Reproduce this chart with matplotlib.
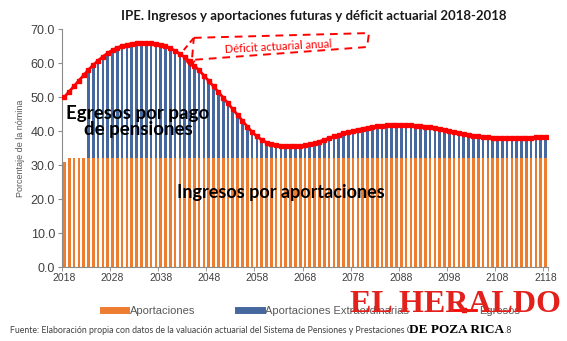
import matplotlib
matplotlib.use("Agg")
import matplotlib.pyplot as plt
from matplotlib.lines import Line2D

# ---- data ----
years = list(range(2018, 2119))
egresos = [
    50.0, 51.6, 53.2, 54.8, 56.4, 58.0, 59.4, 60.7, 61.9, 62.9,
    63.8, 64.5, 65.0, 65.4, 65.7, 65.9, 66.0, 66.0, 65.9, 65.7,
    65.4, 64.9, 64.3, 63.6, 62.7, 61.7, 60.5, 59.2, 57.8, 56.3,
    54.7, 53.1, 51.5, 49.8, 48.1, 46.4, 44.7, 43.0, 41.3, 39.7,
    38.4, 37.4, 36.6, 36.1, 35.8, 35.6, 35.5, 35.5, 35.5, 35.6,
    35.8, 36.1, 36.5, 36.9, 37.4, 37.9, 38.4, 38.9, 39.3, 39.7,
    40.1, 40.4, 40.7, 41.0, 41.2, 41.4, 41.6, 41.7, 41.8, 41.8,
    41.8, 41.8, 41.7, 41.6, 41.5, 41.3, 41.1, 40.8, 40.5, 40.2,
    39.9, 39.6, 39.3, 39.0, 38.8, 38.6, 38.4, 38.2, 38.1, 38.0,
    37.9, 37.9, 37.9, 37.9, 37.9, 37.9, 37.9, 38.0, 38.1, 38.2,
    38.3,
]
aportaciones = [31.0] + [32.2] * 4 + [32.0] * 96
first_extra_year = 2023
tick_years = list(range(2018, 2119, 10))
yticks = [0, 10, 20, 30, 40, 50, 60, 70]

extra = [e - a if y >= first_extra_year else 0.0
         for y, e, a in zip(years, egresos, aportaciones)]

orange = "#ED7D31"
blue = "#46689E"
red = "#FF0000"
gray = "#595959"

fig = plt.figure(figsize=(5.67, 3.41), dpi=100)
ax = fig.add_axes([62 / 567, 74 / 341, 486 / 567, 238 / 341])

x = list(range(len(years)))
ax.bar(x, aportaciones, width=0.55, color=orange, zorder=2)
ax.bar(x, extra, bottom=aportaciones, width=0.55, color=blue, zorder=2)
ax.plot(x, egresos, color=red, lw=2.0, marker="s", ms=3.0, zorder=3)

ax.set_xlim(-0.5, len(years) - 0.5)
ax.set_ylim(0, 70)
ax.set_yticks(yticks)
ax.set_yticklabels([f"{v:.1f}" for v in yticks], fontsize=9, color="#404040",
                   family="Liberation Sans")
ax.set_xticks([years.index(t) for t in tick_years])
ax.set_xticklabels([str(t) for t in tick_years], fontsize=7.5, color="#404040",
                   family="Liberation Sans")
ax.set_xticks([i * 10 - 0.5 for i in range(11)] + [len(years) - 0.5], minor=True)
ax.tick_params(axis="x", which="major", length=0, pad=4)
ax.tick_params(axis="x", which="minor", length=3, color="#8c8c8c")
ax.tick_params(axis="y", length=3, color="#8c8c8c", pad=2)
for s in ["top", "right"]:
    ax.spines[s].set_visible(False)
for s in ["left", "bottom"]:
    ax.spines[s].set_color("#8c8c8c")

ax.set_ylabel("Porcentaje de la nómina", fontsize=6.5, color=gray,
              family="Liberation Sans", labelpad=4)

fig.text(0.553, 0.953, "IPE. Ingresos y aportaciones futuras y déficit actuarial 2018-2018",
         ha="center", va="center", fontsize=9.5, fontweight="bold", family="Lato",
         color="#1a1a1a")

# annotations inside the plot
ax.text(15.3, 42.8, "Egresos por pago\nde pensiones", ha="center", va="center",
        fontsize=13.5, fontweight="bold", family="Lato", color="black",
        linespacing=0.95, zorder=4)
ax.text(45, 21.8, "Ingresos por aportaciones", ha="center", va="center",
        fontsize=13, fontweight="bold", family="Lato", color="black", zorder=4)

# dashed callout
box_x = [26.9, 63.3, 62.9, 26.5, 26.9]
box_y = [67.4, 68.8, 64.7, 60.9, 67.4]
ax.plot(box_x, box_y, color=red, ls=(0, (4, 3)), lw=1.4, clip_on=False, zorder=5)
ax.plot([24.8, 26.9], [63.8, 67.4], color=red, ls=(0, (3, 2)), lw=1.4,
        clip_on=False, zorder=5)
ax.plot([25.4, 26.2, 27.0], [60.5, 59.0, 60.5], color=red, lw=1.2, zorder=5)
ax.text(44.5, 64.9, "Déficit actuarial anual", ha="center", va="center",
        rotation=3, fontsize=8, family="Lato", color=red, zorder=5)

# legend
handles = [Line2D([], [], color=orange, lw=5),
           Line2D([], [], color=blue, lw=5),
           Line2D([], [], color=red, lw=2.0, marker="s", ms=3.0)]
fig.legend(handles, ["Aportaciones", "Aportaciones Extraordinarias", "Egresos"],
           loc="center left", bbox_to_anchor=(103 / 567, 0.088), ncol=3,
           frameon=False, borderpad=0, borderaxespad=0,
           handlelength=2.1, columnspacing=3.9, handletextpad=0.3,
           prop={"family": "Liberation Sans", "size": 8}, labelcolor=gray)

fig.text(0.018, 0.032,
         "Fuente: Elaboración propia con datos de la valuación actuarial del Sistema de "
         "Pensiones y Prestaciones Contingentes del IPE, 2018",
         ha="left", va="center", fontsize=6.3, family="Lato", color="#404040")

# newspaper watermark
fig.text(0.804, 0.108, "EL HERALDO", ha="center", va="center", fontsize=23,
         fontweight="bold", family="Liberation Serif", color="#E3211C", zorder=10)
fig.text(0.806, 0.032, "DE POZA RICA", ha="center", va="center", fontsize=9.5,
         fontweight="bold", family="Liberation Serif", color="black", zorder=10,
         bbox=dict(facecolor="white", edgecolor="none", pad=0.3))

fig.savefig("out.png", dpi=100)
